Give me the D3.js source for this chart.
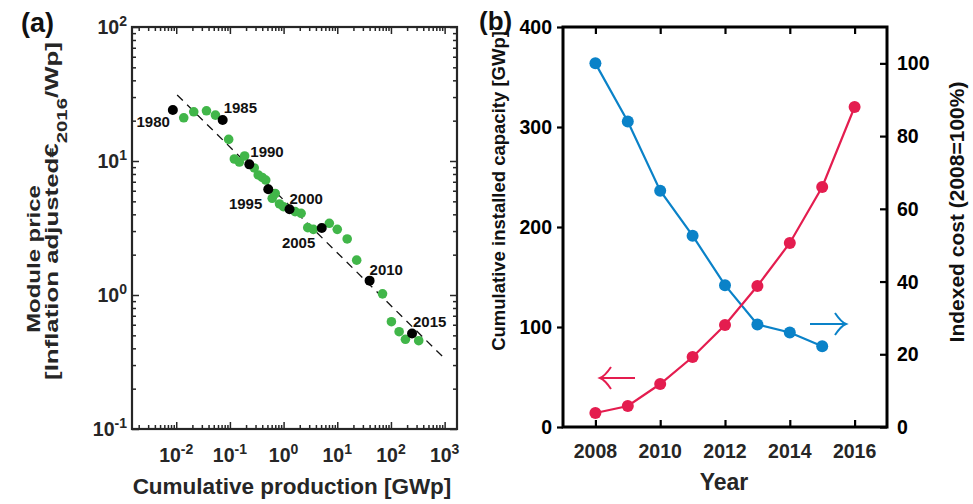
<!DOCTYPE html>
<html>
<head>
<meta charset="utf-8">
<script src="https://cdn.jsdelivr.net/npm/d3@7"></script>
<style>
  html, body { margin: 0; padding: 0; background: #fff; }
  svg { display: block; font-family: "Liberation Sans", Arial, sans-serif; font-weight: bold; }
</style>
</head>
<body>
<svg id="fig" width="973" height="504"></svg>
<script>
// ---- Panel (a): experience curve of PV module price ----
const yearsMarked = [1980, 1985, 1990, 1995, 2000, 2005, 2010, 2015];
const markedProd  = [0.00865, 0.0733, 0.230, 0.518, 1.29, 5.14, 40.0, 247];
const markedPrice = [24.0, 20.2, 9.44, 6.15, 4.36, 3.16, 1.28, 0.516];

const otherYears = [1981, 1982, 1983, 1984, 1986, 1987, 1988, 1989, 1991, 1992, 1993, 1994,
                    1996, 1997, 1998, 1999, 2001, 2002, 2003, 2004, 2006, 2007, 2008, 2009,
                    2011, 2012, 2013, 2014, 2016];
const otherProd  = [0.0138, 0.0212, 0.0366, 0.0537, 0.0948, 0.121, 0.150, 0.188, 0.284, 0.337, 0.400, 0.465,
                    0.614, 0.698, 0.840, 0.995, 1.64, 2.12, 2.82, 3.59, 7.11, 10.0, 15.3, 23.0,
                    69.7, 102, 142, 186, 329];
const otherPrice = [21.0, 23.3, 23.7, 22.0, 14.5, 10.35, 9.83, 10.9, 8.87, 7.87, 7.54, 7.21,
                    5.27, 5.72, 4.78, 4.56, 4.19, 4.07, 3.18, 3.09, 3.43, 3.09, 2.62, 1.82,
                    1.02, 0.632, 0.532, 0.467, 0.456];

// power-law fit endpoints (learning curve)
const fitProd  = [0.0104, 918];
const fitPrice = [31.1, 0.347];

const xExpA = [-2, -1, 0, 1, 2, 3];
const yExpA = [-1, 0, 1, 2];

// ---- Panel (b): installed capacity and indexed cost ----
const yearsB    = [2008, 2009, 2010, 2011, 2012, 2013, 2014, 2015, 2016];
const capacity  = [14, 21, 43, 70, 102, 141, 184, 240, 320];
const costYears = [2008, 2009, 2010, 2011, 2012, 2013, 2014, 2015];
const costIndex = [100, 84, 65, 52.6, 39, 28.2, 26, 22.2];
const yearTicks = [2008, 2010, 2012, 2014, 2016];
const capTicks  = [0, 100, 200, 300, 400];
const costTicks = [0, 20, 40, 60, 80, 100];

const GREEN = "#41b649", RED = "#e41d4f", BLUE = "#0a82c8", INK = "#262626";

const svg = d3.select("#fig");
svg.append("rect").attr("width", 973).attr("height", 504).attr("fill", "#fff");

// ================= Panel (a) =================
const A = { l: 132, r: 457, t: 27, b: 429 };
const xA = d3.scaleLog().domain([0.0015, 1700]).range([A.l, A.r]);
const yA = d3.scaleLog().domain([0.1, 100]).range([A.b, A.t]);
const gA = svg.append("g");

const isMajor = v => Math.abs(Math.log10(v) - Math.round(Math.log10(v))) < 1e-9;
const xMinor = xA.ticks().filter(v => !isMajor(v) && v >= 0.0015 && v <= 1700);
const yMinor = yA.ticks().filter(v => !isMajor(v));
const xMajor = xExpA.map(e => Math.pow(10, e));
const yMajor = yExpA.map(e => Math.pow(10, e));

function styleAxis(g, color, width) {
  g.select(".domain").remove();
  g.selectAll(".tick line").attr("stroke", color).attr("stroke-width", width);
  g.selectAll(".tick text").remove();
}
// inward major/minor ticks on all four sides
[[d3.axisBottom, A.b, -7, xMajor], [d3.axisBottom, A.b, -4, xMinor],
 [d3.axisTop, A.t, -7, xMajor], [d3.axisTop, A.t, -4, xMinor]].forEach(([ax, y, s, vals]) => {
  gA.append("g").attr("transform", `translate(0,${y})`)
    .call(ax(xA).tickValues(vals).tickSize(s).tickFormat(""))
    .call(g => styleAxis(g, INK, 1.5));
});
[[d3.axisLeft, A.l, -7, yMajor], [d3.axisLeft, A.l, -4, yMinor],
 [d3.axisRight, A.r, -7, yMajor], [d3.axisRight, A.r, -4, yMinor]].forEach(([ax, x, s, vals]) => {
  gA.append("g").attr("transform", `translate(${x},0)`)
    .call(ax(yA).tickValues(vals).tickSize(s).tickFormat(""))
    .call(g => styleAxis(g, INK, 1.5));
});
gA.append("rect").attr("x", A.l).attr("y", A.t).attr("width", A.r - A.l).attr("height", A.b - A.t)
  .attr("fill", "none").attr("stroke", INK).attr("stroke-width", 2.2);

// tick labels as powers of ten
xExpA.forEach(e => {
  const t = gA.append("text").attr("x", xA(Math.pow(10, e))).attr("y", 462)
    .attr("text-anchor", "middle").attr("fill", INK).attr("font-size", 19.5);
  t.append("tspan").text("10");
  t.append("tspan").attr("dy", -8).attr("font-size", 14).text(e);
});
yExpA.forEach(e => {
  const t = gA.append("text").attr("x", 127).attr("y", yA(Math.pow(10, e)) + 7)
    .attr("text-anchor", "end").attr("fill", INK).attr("font-size", 19.5);
  t.append("tspan").text("10");
  t.append("tspan").attr("dy", -8).attr("font-size", 14).text(e);
});

// fit line
gA.append("line")
  .attr("x1", xA(fitProd[0])).attr("y1", yA(fitPrice[0]))
  .attr("x2", xA(fitProd[1])).attr("y2", yA(fitPrice[1]))
  .attr("stroke", "#111").attr("stroke-width", 1.3).attr("stroke-dasharray", "8,6");

// yearly points
gA.selectAll("circle.other").data(otherYears).join("circle")
  .attr("class", "other")
  .attr("cx", (d, i) => xA(otherProd[i])).attr("cy", (d, i) => yA(otherPrice[i]))
  .attr("r", 4.8).attr("fill", GREEN);
gA.selectAll("circle.marked").data(yearsMarked).join("circle")
  .attr("class", "marked")
  .attr("cx", (d, i) => xA(markedProd[i])).attr("cy", (d, i) => yA(markedPrice[i]))
  .attr("r", 5).attr("fill", "#000");

// year labels next to the highlighted points
const yearLabelPos = {
  1980: [-3, 17, "end"], 1985: [1, -7, "start"], 1990: [1, -7, "start"],
  1995: [-6, 20, "end"], 2000: [0, -5, "start"], 2005: [-6.5, 20, "end"],
  2010: [0, -5.5, "start"], 2015: [1, -6.5, "start"]
};
gA.selectAll("text.yr").data(yearsMarked).join("text")
  .attr("class", "yr")
  .attr("x", (d, i) => xA(markedProd[i]) + yearLabelPos[d][0])
  .attr("y", (d, i) => yA(markedPrice[i]) + yearLabelPos[d][1])
  .attr("text-anchor", d => yearLabelPos[d][2])
  .attr("font-size", 15).attr("fill", "#111").text(d => d);

// axis titles
gA.append("text").attr("x", 292).attr("y", 494).attr("text-anchor", "middle")
  .attr("font-size", 22.5).attr("fill", INK).text("Cumulative production [GWp]");
gA.append("text").attr("transform", "translate(40,259) rotate(-90) scale(1.26,1)").attr("text-anchor", "middle")
  .attr("font-size", 19).attr("fill", INK).text("Module price");
const yl2 = gA.append("text").attr("transform", "translate(58,211) rotate(-90) scale(1.36,1)").attr("text-anchor", "middle")
  .attr("font-size", 19).attr("fill", INK);
yl2.append("tspan").text("[Inflation adjusted€");
yl2.append("tspan").attr("dy", 9).attr("font-size", 15).text("2016");
yl2.append("tspan").attr("dy", -9).text("/Wp]");

svg.append("text").attr("x", 21).attr("y", 32).attr("font-size", 27).attr("fill", "#111").text("(a)");

// ================= Panel (b) =================
const B = { l: 563, r: 887, t: 27, b: 427 };
const xB = d3.scaleLinear().domain([2007, 2017]).range([B.l, B.r]);
const yB = d3.scaleLinear().domain([0, 400]).range([B.b, B.t]);
const yB2 = d3.scaleLinear().domain([0, 110]).range([B.b, B.t]);
const gB = svg.append("g");

gB.append("g").attr("transform", `translate(0,${B.b})`)
  .call(d3.axisBottom(xB).tickValues(yearTicks).tickSize(-7).tickFormat(""))
  .call(g => styleAxis(g, "#000", 2.2));
gB.append("g").attr("transform", `translate(0,${B.t})`)
  .call(d3.axisTop(xB).tickValues(yearTicks).tickSize(-7).tickFormat(""))
  .call(g => styleAxis(g, "#000", 2.2));
gB.append("g").attr("transform", `translate(${B.l},0)`)
  .call(d3.axisLeft(yB).tickValues(capTicks).tickSize(6).tickFormat(""))
  .call(g => styleAxis(g, "#000", 2.2));
gB.append("g").attr("transform", `translate(${B.r},0)`)
  .call(d3.axisRight(yB2).tickValues(costTicks).tickSize(-7).tickFormat(""))
  .call(g => styleAxis(g, "#000", 2.2));
gB.append("rect").attr("x", B.l).attr("y", B.t).attr("width", B.r - B.l).attr("height", B.b - B.t)
  .attr("fill", "none").attr("stroke", "#000").attr("stroke-width", 3);

gB.selectAll("text.xt").data(yearTicks).join("text").attr("class", "xt")
  .attr("x", d => xB(d)).attr("y", 458).attr("text-anchor", "middle")
  .attr("font-size", 19.5).attr("fill", INK).text(d => d);
gB.selectAll("text.yt").data(capTicks).join("text").attr("class", "yt")
  .attr("x", 552).attr("y", d => yB(d) + 7).attr("text-anchor", "end")
  .attr("font-size", 19.5).attr("fill", "#000").text(d => d);
gB.selectAll("text.y2t").data(costTicks).join("text").attr("class", "y2t")
  .attr("x", 897).attr("y", d => yB2(d) + 7).attr("text-anchor", "start")
  .attr("font-size", 19.5).attr("fill", "#000").text(d => d);

// series
const capLine = d3.line().x((d, i) => xB(yearsB[i])).y(d => yB(d));
const costLine = d3.line().x((d, i) => xB(costYears[i])).y(d => yB2(d));
gB.append("path").attr("d", costLine(costIndex)).attr("fill", "none").attr("stroke", BLUE).attr("stroke-width", 2.2);
gB.append("path").attr("d", capLine(capacity)).attr("fill", "none").attr("stroke", RED).attr("stroke-width", 2.2);
gB.selectAll("circle.cost").data(costIndex).join("circle").attr("class", "cost")
  .attr("cx", (d, i) => xB(costYears[i])).attr("cy", d => yB2(d)).attr("r", 6).attr("fill", BLUE);
gB.selectAll("circle.cap").data(capacity).join("circle").attr("class", "cap")
  .attr("cx", (d, i) => xB(yearsB[i])).attr("cy", d => yB(d)).attr("r", 6).attr("fill", RED);

// arrows pointing to each series' axis
function arrow(x0, x1, y, dir, color) {
  const tip = dir < 0 ? x0 : x1;
  gB.append("path")
    .attr("d", `M${x0},${y}L${x1},${y}` +
      `M${tip - dir * 11},${y - 11}Q${tip - dir * 5},${y - 2} ${tip},${y}` +
      `Q${tip - dir * 5},${y + 2} ${tip - dir * 11},${y + 11}`)
    .attr("fill", "none").attr("stroke", color).attr("stroke-width", 2);
}
arrow(600, 635, 378, -1, RED);
arrow(810, 846, 324, 1, BLUE);

gB.append("text").attr("x", 724).attr("y", 490).attr("text-anchor", "middle")
  .attr("font-size", 23).attr("fill", INK).text("Year");
gB.append("text").attr("transform", "translate(505,191) rotate(-90)").attr("text-anchor", "middle")
  .attr("font-size", 18.5).attr("fill", "#111").text("Cumulative installed capacity [GWp]");
gB.append("text").attr("transform", "translate(964,212) rotate(-90)").attr("text-anchor", "middle")
  .attr("font-size", 21).attr("fill", "#111").text("Indexed cost (2008=100%)");

svg.append("text").attr("x", 479).attr("y", 30).attr("font-size", 26).attr("fill", "#111").text("(b)");
</script>
</body>
</html>
